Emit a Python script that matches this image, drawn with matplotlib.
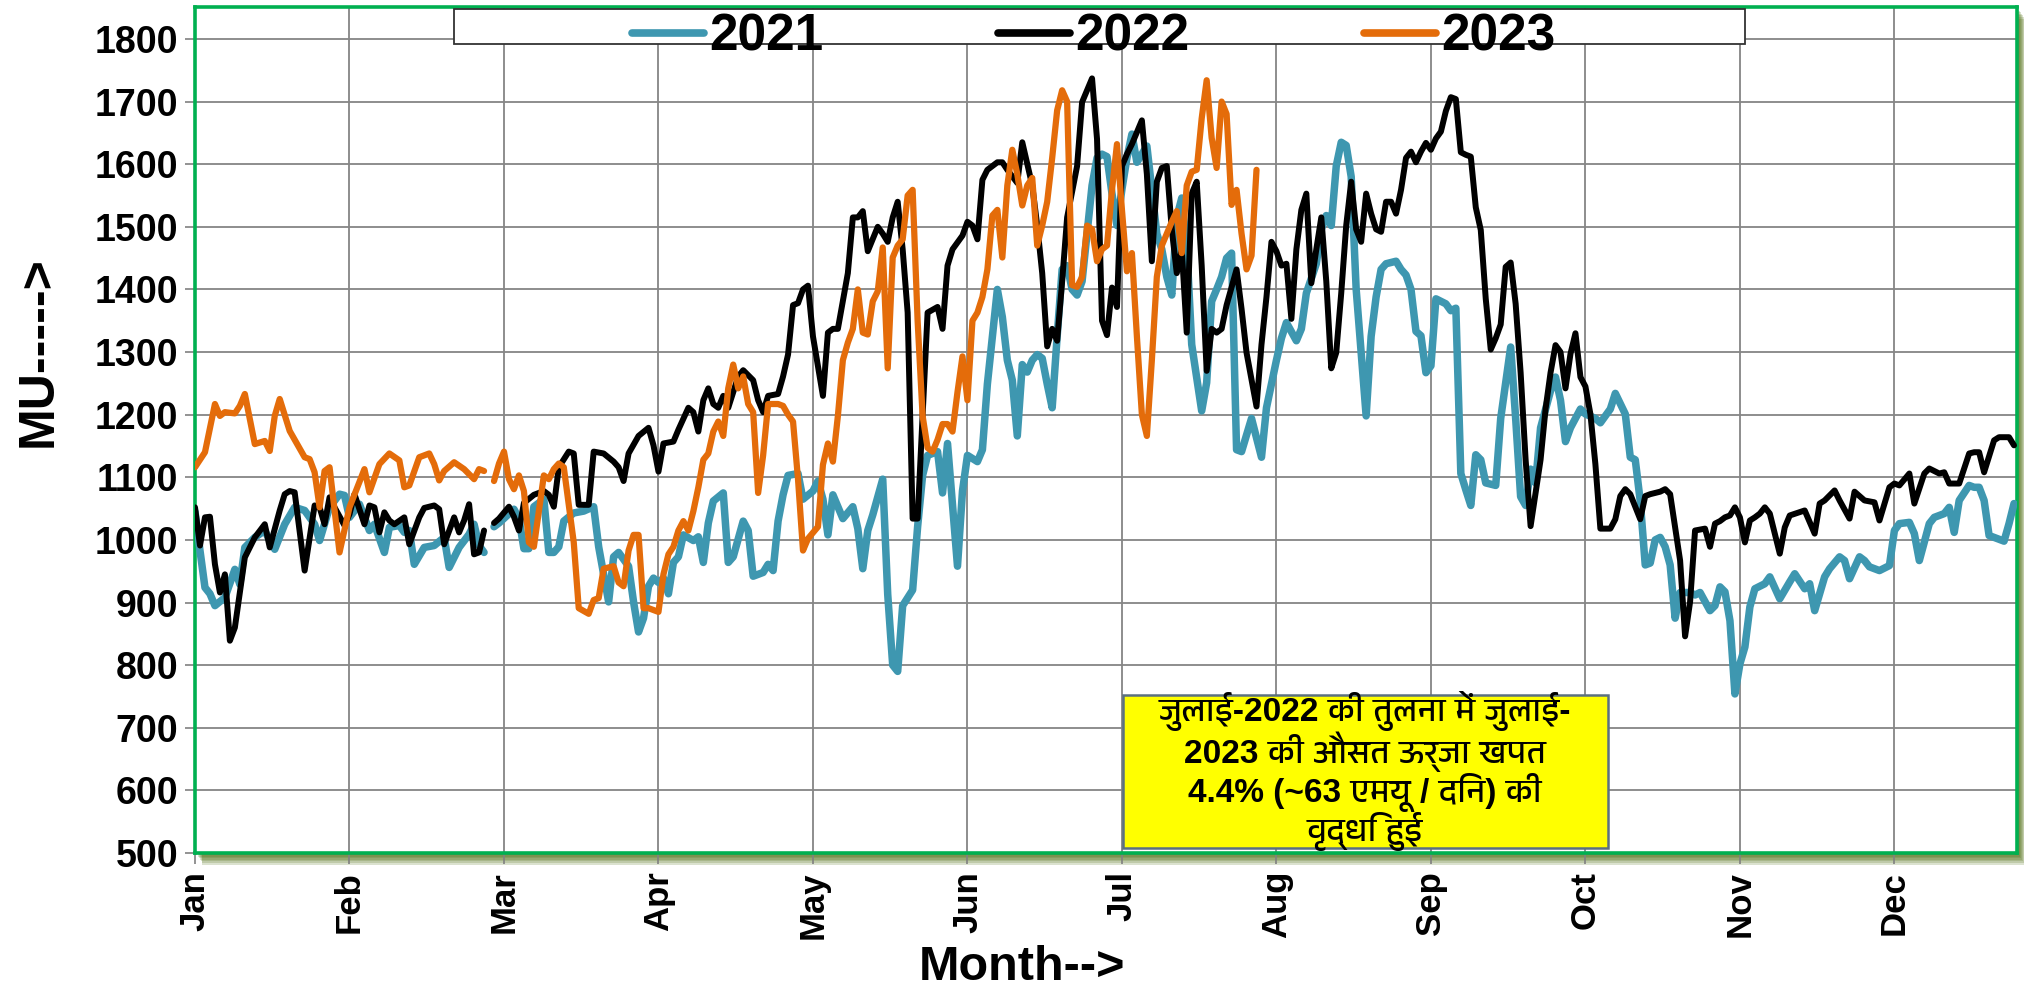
import numpy as np
import matplotlib
matplotlib.use("Agg")
import matplotlib.pyplot as plt
from matplotlib.patches import Rectangle
from matplotlib import font_manager as fm
from matplotlib.ft2font import FT2Font

nan = np.nan

# ---------------- data (day index in a 366-day year, daily MU) ----------------
months = ["Jan", "Feb", "Mar", "Apr", "May", "Jun", "Jul", "Aug", "Sep", "Oct", "Nov", "Dec"]
series_names = ["2021", "2022", "2023"]

pts_2021 = [
    (0, 1045), (1, 983), (2, 924), (3, 914), (4, 895), (6, 908), (8, 953), (9, 929), (10, 988), (12, 1004),
    (14, 1015), (15, 999), (16, 985), (18, 1025), (20, 1052), (22, 1047), (24, 1025), (25, 999), (27, 1052),
    (29, 1073), (30, 1071), (31, 1036), (33, 1057), (35, 1015), (36, 1025), (38, 980), (39, 1020), (41, 1023),
    (42, 1012), (43, 1015), (44, 961), (46, 988), (48, 991), (50, 1004), (51, 956), (53, 988), (55, 1009),
    (56, 1025), (57, 991), (58, 980), (59, nan),
    (60, 1021), (61, 1027), (64, 1049), (65, 1034), (66, 986), (67, 986), (68, 1053), (69, 1059), (70, 1065),
    (71, 980), (72, 980), (73, 989), (74, 1030), (76, 1043), (78, 1046), (80, 1053), (81, 989), (82, 945),
    (83, 901), (84, 973), (85, 980), (87, 958), (88, 901), (89, 853), (90, 875), (91, 926), (92, 939), (93, 932),
    (94, 939), (95, 914), (96, 964), (97, 973), (98, 1008), (100, 999), (101, 1005), (102, 964), (103, 1027),
    (104, 1062), (106, 1075), (107, 964), (108, 973), (110, 1030), (111, 1015), (112, 942), (114, 948),
    (115, 961), (116, 951), (117, 1030), (118, 1072), (119, 1103), (121, 1106), (122, 1065), (124, 1078),
    (125, 1094), (126, 1065), (127, 1008), (128, 1072), (130, 1034), (132, 1053), (133, 1018), (134, 954),
    (135, 1015), (136, 1040), (138, 1097), (139, 913), (140, 800), (141, 790), (142, 895), (144, 920),
    (145, 1021), (146, 1103), (147, 1135), (149, 1141), (150, 1075), (151, 1154), (153, 958), (154, 1078),
    (155, 1135), (157, 1125), (158, 1144), (159, 1249), (160, 1325), (161, 1400), (162, 1356), (163, 1287),
    (164, 1255), (165, 1166), (166, 1280), (167, 1268), (168, 1287), (169, 1296), (170, 1290), (171, 1249),
    (172, 1211), (173, 1325), (174, 1432), (175, 1438), (176, 1400), (177, 1391), (178, 1413), (180, 1566),
    (181, 1610), (182, 1616), (183, 1612), (184, 1553), (185, 1502), (186, 1560), (187, 1610), (188, 1648),
    (189, 1603), (190, 1616), (191, 1629), (193, 1489), (194, 1464), (195, 1420), (196, 1391), (197, 1515),
    (198, 1546), (199, 1470), (200, 1312), (202, 1206), (203, 1251), (204, 1381), (205, 1400), (206, 1420),
    (207, 1450), (208, 1458), (209, 1144), (210, 1141), (212, 1194), (213, 1163), (214, 1132), (215, 1211),
    (216, 1249), (217, 1287), (218, 1322), (219, 1347), (221, 1318), (222, 1337), (223, 1394), (225, 1441),
    (226, 1496), (227, 1518), (228, 1502), (229, 1597), (230, 1635), (231, 1630), (232, 1580), (233, 1400),
    (235, 1198), (236, 1325), (237, 1388), (238, 1432), (239, 1441), (241, 1445), (242, 1432), (243, 1423),
    (244, 1400), (245, 1333), (246, 1326), (247, 1267), (248, 1278), (249, 1385), (251, 1377), (252, 1366),
    (253, 1370), (254, 1106), (255, 1080), (256, 1055), (257, 1136), (258, 1128), (259, 1091), (261, 1087),
    (262, 1194), (264, 1308), (265, 1194), (266, 1069), (267, 1055), (268, 1113), (269, 1091), (270, 1179),
    (272, 1238), (273, 1260), (274, 1223), (275, 1157), (276, 1179), (278, 1209), (279, 1201), (281, 1194),
    (282, 1187), (284, 1209), (285, 1234), (287, 1201), (288, 1132), (289, 1128), (290, 1062), (291, 960),
    (292, 963), (293, 1000), (294, 1004), (295, 989), (296, 960), (297, 875), (298, 916), (300, 916),
    (301, 912), (302, 916), (304, 887), (305, 895), (306, 925), (307, 917), (308, 871), (309, 754), (310, 802),
    (311, 829), (312, 893), (313, 922), (315, 930), (316, 941), (318, 906), (320, 933), (321, 946), (323, 922),
    (324, 930), (325, 887), (327, 941), (328, 954), (330, 973), (331, 967), (332, 938), (334, 973), (335, 967),
    (336, 957), (338, 951), (340, 959), (341, 1015), (342, 1026), (344, 1028), (345, 1010), (346, 967),
    (348, 1026), (349, 1036), (351, 1042), (352, 1052), (353, 1012), (354, 1063), (356, 1087), (357, 1084),
    (358, 1084), (359, 1063), (360, 1007), (361, 1004), (363, 998), (364, 1026), (365, 1058),
]

pts_2022 = [
    (0, 1052), (1, 991), (2, 1036), (3, 1037), (4, 961), (5, 916), (6, 945), (7, 839), (8, 860), (10, 972),
    (12, 1004), (14, 1025), (15, 988), (17, 1047), (18, 1073), (19, 1078), (20, 1076), (22, 951), (24, 1055),
    (25, 1052), (26, 1025), (27, 1068), (28, 1052), (30, 1023), (31, 1041), (32, 1073), (34, 1025), (35, 1055),
    (36, 1052), (37, 1012), (38, 1044), (39, 1031), (40, 1025), (42, 1036), (43, 993), (45, 1036), (46, 1051),
    (48, 1055), (49, 1049), (50, 993), (52, 1036), (53, 1012), (54, 1031), (55, 1057), (56, 977), (57, 980),
    (58, 1015), (59, nan),
    (60, 1027), (61, 1034), (63, 1053), (64, 1037), (65, 1015), (66, 1059), (68, 1072), (70, 1078), (71, 1072),
    (72, 1053), (73, 1116), (75, 1141), (76, 1138), (77, 1056), (79, 1056), (80, 1141), (82, 1138), (84, 1125),
    (85, 1116), (86, 1094), (87, 1138), (89, 1166), (91, 1179), (92, 1151), (93, 1109), (94, 1154), (96, 1157),
    (97, 1176), (99, 1211), (100, 1204), (101, 1173), (102, 1223), (103, 1242), (104, 1217), (105, 1211),
    (106, 1230), (107, 1211), (109, 1261), (110, 1271), (112, 1255), (113, 1223), (114, 1204), (115, 1230),
    (117, 1233), (118, 1261), (119, 1296), (120, 1375), (121, 1378), (122, 1400), (123, 1406), (124, 1325),
    (126, 1230), (127, 1331), (128, 1337), (129, 1337), (131, 1426), (132, 1515), (133, 1515), (134, 1525),
    (135, 1461), (137, 1500), (138, 1489), (139, 1476), (140, 1515), (141, 1540), (142, 1464), (143, 1363),
    (144, 1034), (145, 1034), (146, 1198), (147, 1363), (149, 1372), (150, 1337), (151, 1438), (152, 1464),
    (154, 1486), (155, 1508), (156, 1502), (157, 1480), (158, 1575), (159, 1591), (161, 1603), (162, 1603),
    (163, 1591), (165, 1570), (166, 1635), (168, 1566), (169, 1502), (170, 1426), (171, 1309), (172, 1337),
    (173, 1318), (174, 1413), (175, 1515), (177, 1597), (178, 1699), (180, 1737), (181, 1640), (182, 1350),
    (183, 1327), (184, 1403), (185, 1372), (186, 1597), (187, 1616), (188, 1632), (190, 1670), (191, 1584),
    (192, 1445), (193, 1572), (194, 1594), (195, 1597), (196, 1496), (197, 1426), (198, 1464), (199, 1331),
    (200, 1553), (201, 1572), (202, 1438), (203, 1270), (204, 1337), (205, 1331), (206, 1337), (207, 1375),
    (209, 1432), (210, 1369), (211, 1299), (213, 1213), (214, 1312), (215, 1388), (216, 1476), (217, 1461),
    (218, 1438), (219, 1441), (220, 1353), (221, 1464), (222, 1527), (223, 1553), (224, 1410), (225, 1464),
    (226, 1515), (227, 1413), (228, 1274), (229, 1299), (230, 1394), (231, 1502), (232, 1572), (233, 1496),
    (234, 1476), (235, 1553), (236, 1521), (237, 1496), (238, 1492), (239, 1540), (240, 1540), (241, 1521),
    (242, 1559), (243, 1610), (244, 1620), (245, 1603), (246, 1620), (247, 1634), (248, 1623), (249, 1641),
    (250, 1652), (251, 1685), (252, 1707), (253, 1704), (254, 1619), (255, 1615), (256, 1612), (257, 1531),
    (258, 1495), (259, 1385), (260, 1304), (261, 1322), (262, 1344), (263, 1436), (264, 1443), (265, 1377),
    (266, 1267), (267, 1128), (268, 1022), (270, 1128), (271, 1209), (272, 1267), (273, 1311), (274, 1300),
    (275, 1242), (276, 1297), (277, 1330), (278, 1260), (279, 1245), (280, 1201), (281, 1121), (282, 1018),
    (284, 1018), (285, 1033), (286, 1070), (287, 1081), (288, 1073), (290, 1033), (291, 1070), (292, 1073),
    (294, 1077), (295, 1081), (296, 1073), (298, 967), (299, 846), (300, 901), (301, 1015), (303, 1018),
    (304, 989), (305, 1026), (306, 1030), (307, 1036), (308, 1039), (309, 1052), (310, 1036), (311, 996),
    (312, 1031), (313, 1036), (314, 1042), (315, 1052), (316, 1042), (318, 978), (319, 1020), (320, 1039),
    (323, 1047), (325, 1010), (326, 1058), (327, 1063), (329, 1079), (330, 1063), (332, 1034), (333, 1077),
    (335, 1063), (337, 1060), (338, 1031), (340, 1084), (341, 1090), (342, 1087), (344, 1106), (345, 1058),
    (347, 1106), (348, 1114), (350, 1106), (351, 1108), (352, 1090), (354, 1090), (356, 1138), (357, 1140),
    (358, 1140), (359, 1108), (361, 1159), (362, 1164), (364, 1164), (365, 1151),
]

pts_2023 = [
    (0, 1116), (2, 1140), (4, 1217), (5, 1198), (6, 1204), (8, 1202), (9, 1214), (10, 1233), (12, 1153),
    (14, 1158), (15, 1142), (16, 1198), (17, 1225), (19, 1174), (20, 1160), (22, 1132), (23, 1129), (24, 1108),
    (25, 1052), (26, 1110), (27, 1116), (29, 980), (31, 1052), (34, 1113), (35, 1076), (37, 1121), (39, 1138),
    (41, 1127), (42, 1084), (43, 1087), (45, 1132), (47, 1138), (48, 1121), (49, 1095), (50, 1110), (52, 1124),
    (54, 1113), (56, 1097), (57, 1113), (58, 1110), (59, nan),
    (60, 1094), (61, 1122), (62, 1141), (63, 1097), (64, 1081), (65, 1103), (66, 1078), (67, 996), (68, 989),
    (70, 1103), (71, 1097), (72, 1113), (73, 1122), (74, 1116), (76, 996), (77, 891), (79, 882), (80, 904),
    (81, 907), (82, 954), (84, 958), (85, 932), (86, 926), (87, 983), (88, 1008), (89, 1008), (90, 891),
    (91, 891), (93, 885), (94, 945), (95, 977), (96, 989), (97, 1015), (98, 1030), (99, 1015), (100, 1046),
    (101, 1084), (102, 1128), (103, 1138), (104, 1173), (105, 1189), (106, 1166), (107, 1242), (108, 1280),
    (109, 1242), (110, 1261), (111, 1217), (112, 1204), (113, 1075), (114, 1135), (115, 1217), (117, 1217),
    (118, 1214), (119, 1200), (120, 1189), (121, 1097), (122, 983), (123, 1002), (125, 1021), (126, 1120),
    (127, 1154), (128, 1125), (129, 1198), (130, 1287), (131, 1315), (132, 1337), (133, 1400), (134, 1331),
    (135, 1328), (136, 1381), (137, 1397), (138, 1467), (139, 1274), (140, 1451), (141, 1470), (142, 1480),
    (143, 1550), (144, 1559), (145, 1350), (146, 1198), (147, 1147), (148, 1141), (149, 1160), (150, 1185),
    (151, 1185), (152, 1173), (153, 1236), (154, 1293), (155, 1223), (156, 1350), (157, 1363), (158, 1388),
    (159, 1432), (160, 1518), (161, 1527), (162, 1451), (163, 1566), (164, 1623), (165, 1584), (166, 1534),
    (167, 1566), (168, 1578), (169, 1470), (170, 1502), (171, 1540), (172, 1610), (173, 1686), (174, 1718),
    (175, 1700), (176, 1407), (177, 1404), (178, 1420), (179, 1502), (180, 1496), (181, 1445), (182, 1464),
    (183, 1470), (184, 1559), (185, 1632), (186, 1527), (187, 1429), (188, 1458), (189, 1325), (190, 1200),
    (191, 1166), (192, 1287), (193, 1420), (194, 1470), (196, 1508), (197, 1525), (198, 1458), (199, 1566),
    (200, 1588), (201, 1591), (202, 1673), (203, 1734), (204, 1642), (205, 1594), (206, 1700), (207, 1680),
    (208, 1535), (209, 1559), (210, 1489), (211, 1432), (212, 1454), (213, 1591),
]

y_ticks = list(range(500, 1801, 100))
note_lines = [
    "जुलाई-2022 की तुलना में जुलाई-",
    "2023 की औसत ऊर्जा खपत",
    "4.4% (~63 एमयू / दिन) की",
    "वृद्धि हुई",
]

colors = {"2021": "#3E97B0", "2022": "#000000", "2023": "#E46C0A"}
widths = {"2021": 5.4, "2022": 4.3, "2023": 4.5}


# ---------------- fonts ----------------
def find_devanagari_font():
    names = []
    for f in fm.fontManager.ttflist:
        try:
            cmap = FT2Font(f.fname).get_charmap()
        except Exception:
            continue
        if 0x091C in cmap and 0x0941 in cmap and 0x0948 in cmap:
            names.append(f.name)
    if not names:
        return None
    pref = [n for n in names if "Devanagari" in n]
    return (pref or names)[0]


deva = find_devanagari_font()
families = ["Liberation Sans"] + ([deva] if deva else []) + ["DejaVu Sans"]
plt.rcParams["font.family"] = families
plt.rcParams["font.weight"] = "bold"

# ---------------- figure ----------------
W, H = 2029, 990
L, R, T, B = 195, 2017, 7, 853
fig = plt.figure(figsize=(W / 100, H / 100), dpi=100)
fig.patch.set_facecolor("white")
ax = fig.add_axes([L / W, 1 - B / H, (R - L) / W, (B - T) / H])

# olive shadow under / right of the plot frame
for k in range(7):
    fig.add_artist(Rectangle(((L + 2 + 0.9 * k) / W, 1 - (B + 2 + 1.6 * k) / H), (R - L) / W, (B - T) / H,
                             transform=fig.transFigure, facecolor="#4f6e12", edgecolor="none",
                             alpha=0.2, zorder=-1))

lines = []
for name, pts in zip(series_names, [pts_2021, pts_2022, pts_2023]):
    d = np.array([p[0] for p in pts], dtype=float)
    v = np.array([p[1] for p in pts], dtype=float)
    ln, = ax.plot(d, v, color=colors[name], lw=widths[name], solid_joinstyle="round",
                  solid_capstyle="round", label=name, zorder=3)
    lines.append(ln)

ax.set_xlim(0, 365.6)
ax.set_ylim(500, 1851)
ax.set_yticks(y_ticks)
ax.set_yticklabels([str(t) for t in y_ticks], fontsize=27, fontweight="bold")
ax.set_xticks([31 * i for i in range(len(months))])
ax.set_xticklabels(months, rotation=90, fontsize=25, fontweight="bold", va="top", ha="center")
ax.tick_params(axis="y", direction="out", length=7, width=1.2, color="#808080", pad=5)
ax.tick_params(axis="x", direction="out", length=8, width=1.2, color="#808080", pad=5)
ax.grid(True, color="#858585", linewidth=1.3)
ax.set_axisbelow(True)
for s in ax.spines.values():
    s.set_color("#00B050")
    s.set_linewidth(2.6)

# axis titles
fig.text(39 / W, 1 - 352 / H, "MU----->", rotation=90, ha="center", va="center",
         fontsize=36, fontweight="bold")
fig.text(1022 / W, 1 - 968 / H, "Month-->", ha="center", va="center", fontsize=35, fontweight="bold")

# legend frame + legend
fig.add_artist(Rectangle((454 / W, 1 - 44 / H), (1745 - 454) / W, (44 - 9) / H, transform=fig.transFigure,
                         facecolor="white", edgecolor="#333333", lw=1.3, zorder=1.5))
leg = fig.legend(handles=lines, labels=series_names, loc="center left",
                 bbox_to_anchor=(632 / W, 1 - 37 / H), bbox_transform=fig.transFigure,
                 ncol=3, frameon=False, prop={"size": 37, "weight": "bold"},
                 handlelength=1.4, handletextpad=0.1, columnspacing=3.4, borderpad=0, borderaxespad=0)
for h in leg.get_lines():
    h.set_linewidth(5.5)
leg.set_zorder(6)

# annotation box with one multi-line note
fig.add_artist(Rectangle((1123 / W, 1 - 848 / H), (1608 - 1123) / W, (848 - 695) / H,
                         transform=fig.transFigure, facecolor="#FFFF00", edgecolor="#5b7080",
                         lw=1.8, zorder=1.5))
fig.text(1365 / W, 1 - 771 / H, "\n".join(note_lines), ha="center", va="center", multialignment="center",
         fontsize=24, fontweight="bold", linespacing=1.02, zorder=4)

fig.savefig("out.png", dpi=100, facecolor="white")
